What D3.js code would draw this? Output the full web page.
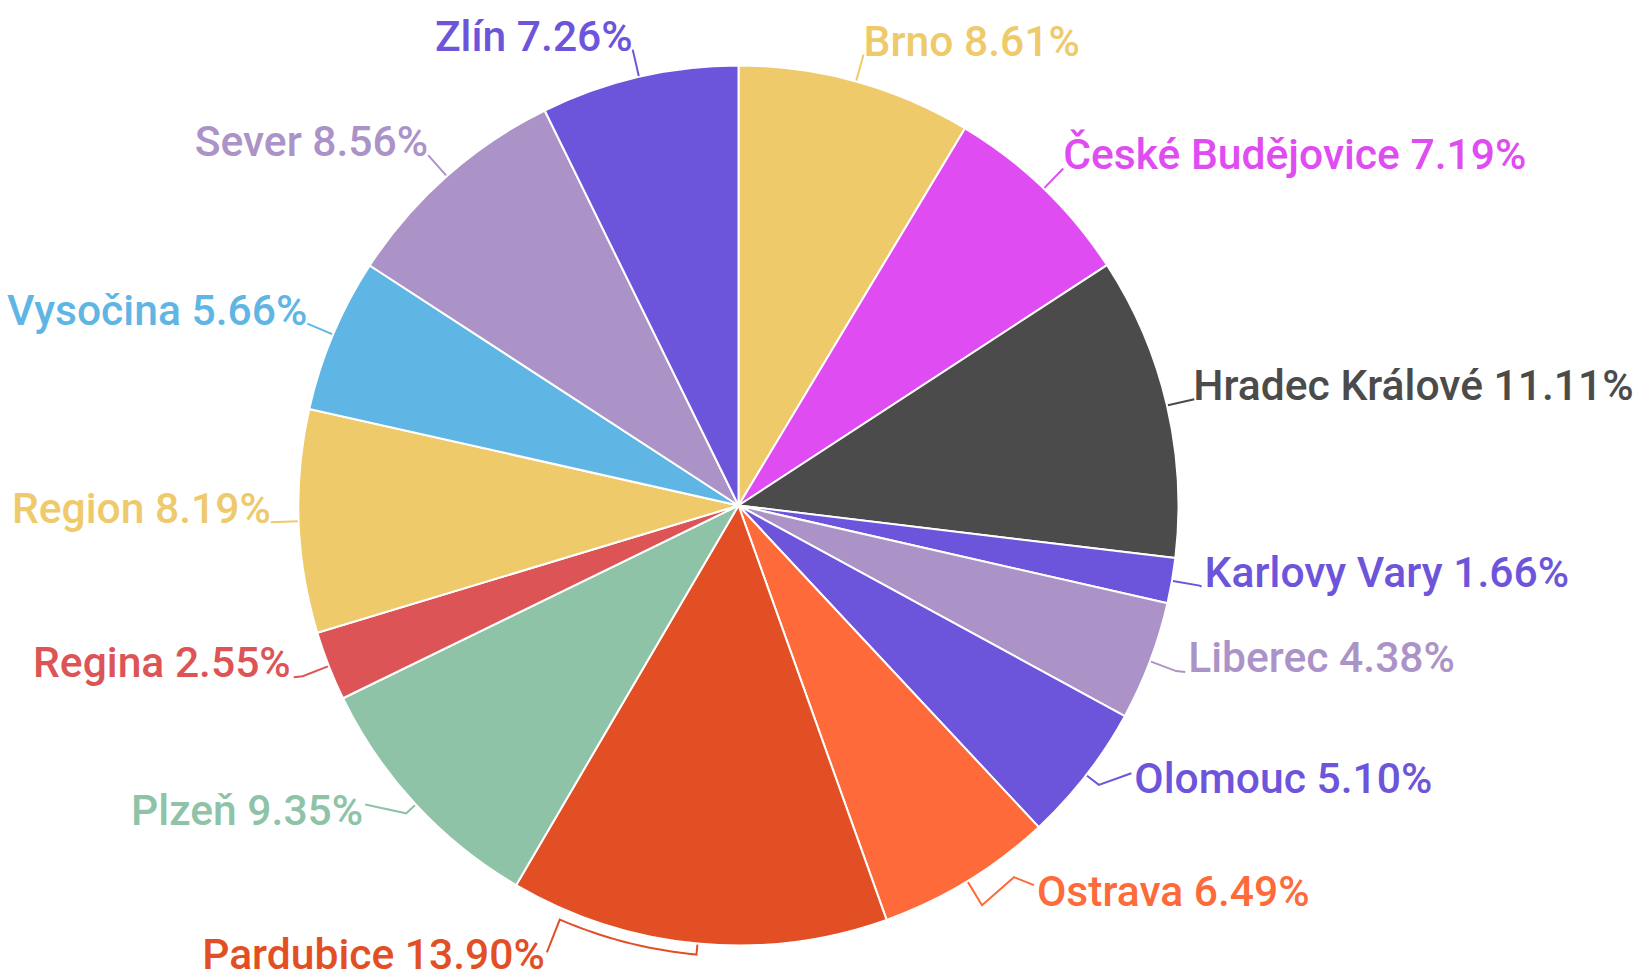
<!DOCTYPE html>
<html>
<head>
<meta charset="utf-8">
<script src="https://cdn.jsdelivr.net/npm/d3@7"></script>
<style>
  html, body { margin: 0; padding: 0; background: #ffffff; }
  svg { display: block; }
  text { font-family: Roboto, "Noto Sans", sans-serif; font-weight: 500; }
</style>
</head>
<body>
<svg id="chart" width="1636" height="979"></svg>
<script>
// ---- data ----
const categories = ["Brno", "České Budějovice", "Hradec Králové", "Karlovy Vary", "Liberec",
  "Olomouc", "Ostrava", "Pardubice", "Plzeň", "Regina", "Region", "Vysočina", "Sever", "Zlín"];
const shares = [8.61, 7.19, 11.11, 1.66, 4.38, 5.10, 6.49, 13.90, 9.35, 2.55, 8.19, 5.66, 8.56, 7.26];
const colors = ["#EECA6B", "#DF4DF2", "#4B4B4B", "#6D55DB", "#AC93C7", "#6D55DB", "#FE6A39",
  "#E34F24", "#8EC3A7", "#DC5455", "#EECA6B", "#5FB6E4", "#AC93C7", "#6D55DB"];

// ---- label layout tweaks (collision avoidance), offsets relative to default anchor ----
const labelShift = [0, 0, -1, 5, 12, 26, 55, -150, -32, -12, 0, 0, 0, 0];
const labelLift = [0, 0, 0, 0, 0, 0, 0, -3, 0, 0, 0, 0, 0, 0];
const leaderInner = [null, null, null, null, null, 16, null, 11, 13, null, null, null, null, null];
const leaderSweep = [0, 0, 0, 0, 0, 0, 0, 18, 0, 0, 0, 0, 0, 0];
const leaderVia = [null, null, null, null, null, null, [-23, -29], null, null, null, null, null, null, null];
const leaderEnd = [null, null, null, null, null, [-3, -20], [-3, -21], [2, -17], [2, -20], null, null, null, null, null];

// ---- layout ----
const cx = 738.5, cy = 505.5, R = 440, LEAD = 28, FONT = 42.6;

const svg = d3.select("#chart");
const g = svg.append("g").attr("transform", `translate(${cx},${cy})`);

const data = categories.map((c, i) => ({ name: c, value: shares[i], color: colors[i], i }));
const pie = d3.pie().sort(null).value(d => d.value).startAngle(0).endAngle(2 * Math.PI);
const arcs = pie(data);
const arc = d3.arc().innerRadius(0).outerRadius(R);

g.selectAll("path.slice").data(arcs).join("path")
  .attr("class", "slice")
  .attr("d", arc)
  .attr("fill", d => d.data.color)
  .attr("stroke", "#ffffff")
  .attr("stroke-width", 2)
  .attr("stroke-linejoin", "round");

const polar = (rad, a) => [Math.sin(a) * rad, -Math.cos(a) * rad];
const fmt = d3.format(".2f");

arcs.forEach(d => {
  const i = d.data.i;
  const mid = (d.startAngle + d.endAngle) / 2;
  const side = Math.sin(mid) >= 0 ? 1 : -1;
  const A = polar(R + LEAD, mid);
  const T = [A[0] + labelShift[i], A[1] + 1 + labelLift[i]];

  const pts = [polar(R + 1, mid)];
  if (leaderInner[i] != null) {
    const ri = R + leaderInner[i];
    pts.push(polar(ri, mid));
    if (leaderSweep[i]) {
      const a1 = mid + leaderSweep[i] * Math.PI / 180;
      const n = 24;
      for (let k = 1; k <= n; k++) pts.push(polar(ri, mid + (a1 - mid) * k / n));
    }
  } else {
    pts.push(A);
  }
  if (leaderVia[i]) pts.push([T[0] + leaderVia[i][0], T[1] + leaderVia[i][1]]);
  if (leaderEnd[i]) pts.push([T[0] + leaderEnd[i][0], T[1] + leaderEnd[i][1]]);
  else if (labelShift[i] !== 0) pts.push([T[0] - side * 3, T[1]]);

  g.append("path")
    .attr("d", d3.line()(pts))
    .attr("fill", "none")
    .attr("stroke", d.data.color)
    .attr("stroke-width", 2);

  g.append("text")
    .attr("x", T[0])
    .attr("y", T[1])
    .attr("text-anchor", side > 0 ? "start" : "end")
    .attr("font-size", FONT)
    .attr("fill", d.data.color)
    .text(`${d.data.name} ${fmt(d.data.value)}%`);
});
</script>
</body>
</html>
